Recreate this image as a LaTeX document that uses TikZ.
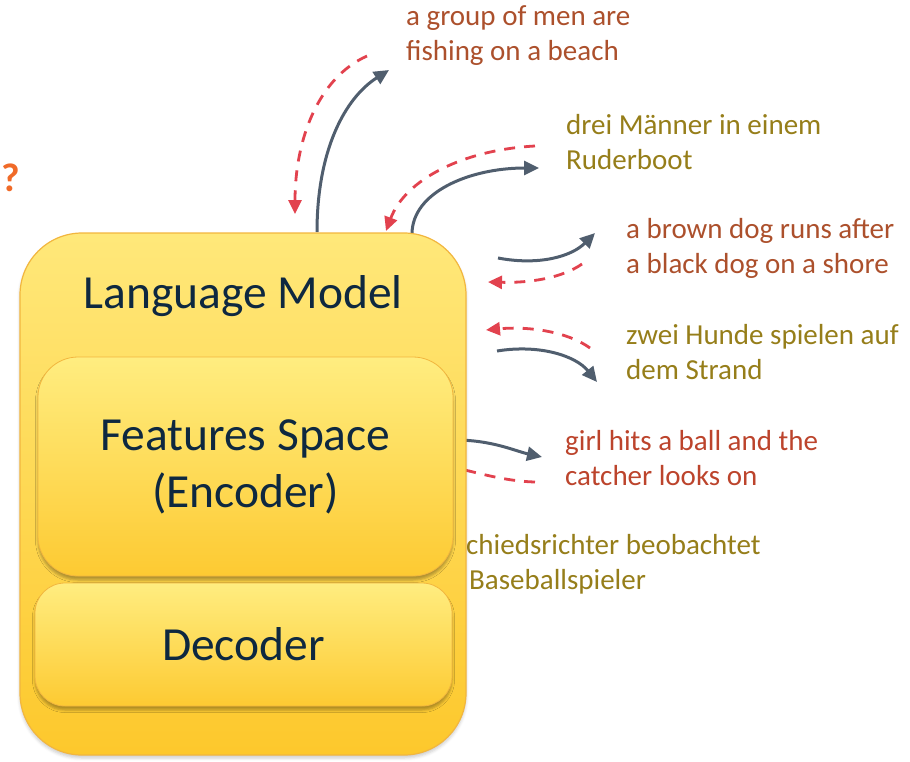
\documentclass[tikz,border=0pt]{standalone}
\usepackage{fontspec}
\setmainfont{Carlito}
\usetikzlibrary{arrows.meta,shadows.blur}

\definecolor{engtxt}{RGB}{172,80,44}
\definecolor{redtxt}{RGB}{188,68,44}
\definecolor{gertxt}{RGB}{150,126,26}
\definecolor{fwdarrow}{RGB}{80,94,110}
\definecolor{backarrow}{RGB}{226,66,78}
\definecolor{boxline}{RGB}{242,182,62}
\definecolor{boxtop}{RGB}{255,232,122}
\definecolor{boxbot}{RGB}{253,200,44}
\definecolor{innertop}{RGB}{255,237,128}
\definecolor{innerbot}{RGB}{253,202,50}
\definecolor{boxtxt}{RGB}{14,40,64}
\definecolor{qmark}{RGB}{240,106,40}

\tikzset{
  fwd/.style={draw=fwdarrow, line width=3pt,
    -{Triangle[length=15pt,width=14pt]}},
  back/.style={draw=backarrow, line width=2.8pt, dash pattern=on 11pt off 9pt,
    -{Triangle[length=14pt,width=13pt]}},
  caption/.style={anchor=west, inner sep=0pt, align=left,
    font=\fontsize{29}{35}\selectfont},
  outerbox/.style={draw=boxline, line width=1.2pt, rounded corners=62pt,
    top color=boxtop, bottom color=boxbot,
    blur shadow={shadow xshift=0pt, shadow yshift=-3pt, shadow opacity=20,
      shadow blur radius=3pt}},
  innerbox/.style={draw=boxline, line width=0.8pt,
    top color=innertop, bottom color=innerbot,
    blur shadow={shadow xshift=0pt, shadow yshift=-4pt, shadow opacity=30,
      shadow blur radius=2.5pt},
    text=boxtxt, align=center, font=\fontsize{47.5}{57}\selectfont}
}

\begin{document}
\begin{tikzpicture}[x=1pt,y=-1pt]
\useasboundingbox (0,0) rectangle (910,761);

% captions
\node[caption, text=engtxt] (c1) at (406,36) {a group of men are\\fishing on a beach};
\node[caption, text=gertxt] (c2) at (566,142) {drei Männer in einem\\Ruderboot};
\node[caption, text=engtxt] (c3) at (626,248) {a brown dog runs after\\a black dog on a shore};
\node[caption, text=gertxt] (c4) at (626,352) {zwei Hunde spielen auf\\dem Strand};
\node[caption, text=redtxt] (c5) at (565,458) {girl hits a ball and the\\catcher looks on};
\node[caption, text=gertxt] (c6) at (466,564) {chiedsrichter beobachtet\\\hspace*{3pt}Baseballspieler};
\node[text=qmark, font=\bfseries\fontsize{40}{44}\selectfont, inner sep=0pt, anchor=west] (q) at (1,178) {?};

% connector end points
\coordinate (a1s) at (317,232);  \coordinate (a1e) at (389,70);
\coordinate (b1s) at (367,56);   \coordinate (b1e) at (295,214);
\coordinate (b2s) at (535,146);  \coordinate (b2e) at (386,231);
\coordinate (a2s) at (412,234);  \coordinate (a2e) at (539,168);
\coordinate (a3s) at (498,258);  \coordinate (a3e) at (595,233);
\coordinate (b3s) at (582,264);  \coordinate (b3e) at (488,282);
\coordinate (b4s) at (590,348);  \coordinate (b4e) at (486,330);
\coordinate (a4s) at (497,351);  \coordinate (a4e) at (597,382);
\coordinate (a5s) at (455,440);  \coordinate (a5e) at (542,457);
\coordinate (b5s) at (535,482);  \coordinate (b5e) at (440,466);

% translation / reconstruction arrows
\draw[fwd]  (a1s) .. controls (317,150) and (345,98) .. (a1e);
\draw[back] (b1s) .. controls (318,78) and (295,140) .. (b1e);
\draw[back] (b2s) .. controls (462,150) and (405,180) .. (b2e);
\draw[fwd]  (a2s) .. controls (412,192) and (470,168) .. (a2e);
\draw[fwd]  (a3s) .. controls (540,266) and (572,256) .. (a3e);
\draw[back] (b3s) .. controls (562,278) and (530,283) .. (b3e);
\draw[back] (b4s) .. controls (568,332) and (530,326) .. (b4e);
\draw[fwd]  (a4s) .. controls (540,344) and (576,356) .. (a4e);
\draw[fwd]  (a5s) .. controls (492,440) and (515,451) .. (a5e);
\draw[back] (b5s) .. controls (500,481) and (470,470) .. (b5e);

% model blocks
\node[outerbox, minimum width=446pt, minimum height=522pt] (lm) at (243,494) {};
\node[text=boxtxt, font=\fontsize{47.5}{57}\selectfont, inner sep=0pt] (lmtitle) at (243,296) {Language Model};
\node[innerbox, rounded corners=40pt, minimum width=415pt, minimum height=219pt] (enc) at (245.5,466.5)
  {Features Space\\(Encoder)};
\node[innerbox, rounded corners=30pt, minimum width=417pt, minimum height=123pt] (dec) at (243.5,644.5)
  {Decoder};
\end{tikzpicture}
\end{document}
